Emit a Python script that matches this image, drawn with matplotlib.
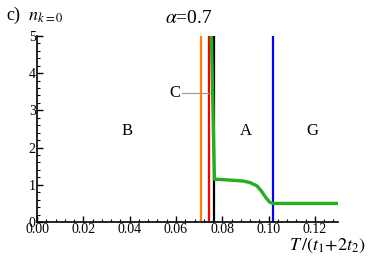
import matplotlib
matplotlib.use("Agg")

import matplotlib.pyplot as plt
from matplotlib.ticker import MultipleLocator

plt.rcParams["font.family"] = ["Liberation Serif", "DejaVu Serif"]
plt.rcParams["mathtext.fontset"] = "stix"

# phase boundaries (vertical lines)
bound_T = [0.0708, 0.0743, 0.0765, 0.102]
bound_colors = ["#ff7f00", "#ff0000", "#000000", "#0000ff"]

# condensate occupation n_{k=0} vs T
green_T = [0.0752, 0.0766, 0.0770, 0.080, 0.085, 0.089, 0.092, 0.095, 0.097, 0.099, 0.1005, 0.102, 0.110, 0.120, 0.130]
green_n = [5.3, 1.15, 1.15, 1.14, 1.12, 1.10, 1.06, 0.97, 0.82, 0.64, 0.53, 0.50, 0.50, 0.50, 0.50]

# phase labels
phase_names = ["B", "A", "G"]
phase_T = [0.039, 0.090, 0.119]
phase_n = [2.45, 2.45, 2.45]

fig = plt.figure(figsize=(3.74, 2.6), dpi=100)
ax = fig.add_axes([0.099, 0.146, 0.805, 0.716])

for t, c in zip(bound_T, bound_colors):
    ax.axvline(t, color=c, lw=1.6)
ax.plot(green_T, green_n, color="#22b01e", lw=2.4, zorder=5)

for name, t, n in zip(phase_names, phase_T, phase_n):
    ax.text(t, n, name, fontsize=12, ha="center", va="center")

# "C" label with pointer line
ax.plot([0.0628, 0.0752], [3.47, 3.47], color="#999999", lw=0.8)
ax.text(0.0595, 3.47, "C", fontsize=12, ha="center", va="center")

ax.set_xlim(0, 0.13)
ax.set_ylim(0, 5)
ax.xaxis.set_major_locator(MultipleLocator(0.02))
ax.xaxis.set_minor_locator(MultipleLocator(0.004))
ax.yaxis.set_major_locator(MultipleLocator(1))
ax.yaxis.set_minor_locator(MultipleLocator(0.2))
ax.set_xticklabels([f"{v:.2f}" for v in ax.get_xticks()])
ax.tick_params(direction="in", which="both", labelsize=10, pad=1)
ax.tick_params(which="major", length=4, width=1)
ax.tick_params(which="minor", length=2, width=0.8)
for s in ["top", "right"]:
    ax.spines[s].set_visible(False)
for s in ["left", "bottom"]:
    ax.spines[s].set_linewidth(1.2)

fig.text(0.875, 0.055, r"$T\,/(t_1\!+\!2t_2)$", fontsize=13, ha="center", va="center")
fig.text(0.015, 0.94, r"c)  $n_{k=0}$", fontsize=13, ha="left", va="center")
fig.text(0.505, 0.93, r"$\alpha$=0.7", fontsize=14, ha="center", va="center")

fig.savefig("out.png", dpi=100)
